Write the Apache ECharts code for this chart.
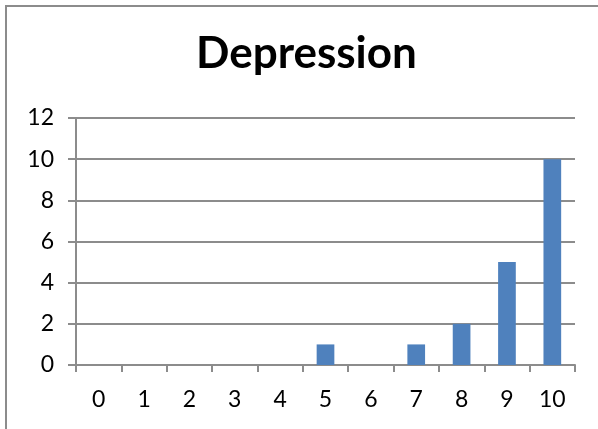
<!DOCTYPE html>
<html>
<head>
<meta charset="utf-8">
<script src="https://cdn.jsdelivr.net/npm/echarts@6/dist/echarts.min.js"></script>
<style>
  html, body { margin: 0; padding: 0; background: #fff; }
  #chart { width: 598px; height: 429px; }
</style>
</head>
<body>
<div id="chart"></div>
<script>
// Score categories and counts per score
const categories = ['0', '1', '2', '3', '4', '5', '6', '7', '8', '9', '10'];
const counts = [0, 0, 0, 0, 0, 1, 0, 1, 2, 5, 10];
const yTicks = [0, 2, 4, 6, 8, 10, 12];

const font = 'Lato, "Open Sans", sans-serif';
const chart = echarts.init(document.getElementById('chart'), null, { renderer: 'canvas' });

chart.setOption({
  animation: false,
  backgroundColor: '#ffffff',
  graphic: [{
    type: 'rect',
    shape: { x: 6, y: 6, width: 620, height: 460 },
    style: { fill: 'none', stroke: '#8c8c8c', lineWidth: 2 },
    silent: true
  }],
  title: {
    text: 'Depression',
    left: 196,
    top: 32,
    padding: 0,
    textStyle: { fontFamily: font, fontSize: 44, fontWeight: 'bold', color: '#000' }
  },
  grid: { left: 76, right: 23, top: 118, bottom: 64 },
  xAxis: {
    type: 'category',
    data: categories,
    boundaryGap: true,
    axisLine: { lineStyle: { color: '#8c8c8c', width: 2 } },
    axisTick: { show: true, alignWithLabel: false, inside: false, length: 7, lineStyle: { color: '#8c8c8c', width: 2 } },
    axisLabel: { fontFamily: font, fontSize: 23, color: '#000', margin: 23 },
    splitLine: { show: false }
  },
  yAxis: {
    type: 'value',
    min: yTicks[0],
    max: yTicks[yTicks.length - 1],
    interval: 2,
    axisLine: { show: true, lineStyle: { color: '#8c8c8c', width: 2 } },
    axisTick: { show: true, length: 8, lineStyle: { color: '#8c8c8c', width: 2 } },
    axisLabel: { fontFamily: font, fontSize: 23, color: '#000', margin: 22 },
    splitLine: { show: true, lineStyle: { color: '#8c8c8c', width: 2 } }
  },
  series: [{
    type: 'bar',
    data: counts,
    barWidth: '39%',
    itemStyle: { color: '#4f81bd' }
  }]
});
</script>
</body>
</html>
